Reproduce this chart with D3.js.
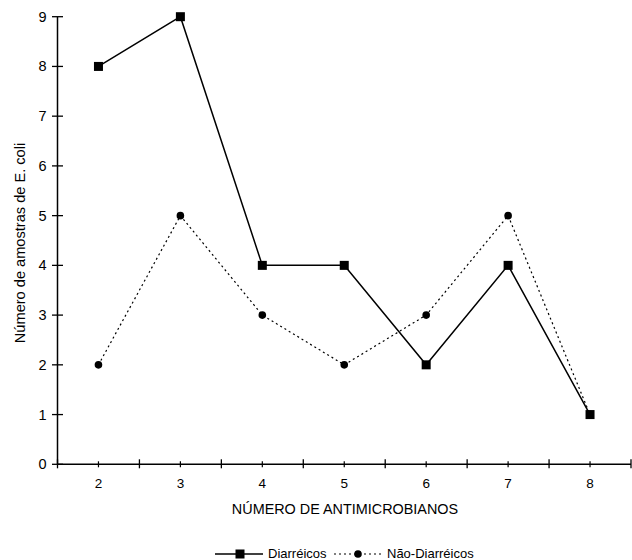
<!DOCTYPE html>
<html><head><meta charset="utf-8">
<script src="https://cdn.jsdelivr.net/npm/d3@7/dist/d3.min.js"></script>
<style>body{margin:0;background:#fff}svg{display:block}text{font-family:"Liberation Sans",Arial,sans-serif;fill:#000}</style>
</head><body>
<svg id="c" width="632" height="560"></svg>
<script>
const categories = ["2","3","4","5","6","7","8"];
const diarreicos = [8,9,4,4,2,4,1];
const naoDiarreicos = [2,5,3,2,3,5,1];
const yTicks = [0,1,2,3,4,5,6,7,8,9];

const svg = d3.select("#c");
const x = d3.scaleBand().domain(categories).range([57.5, 631]);
const y = d3.scaleLinear().domain([0,9]).range([464.3, 16.7]);
const cx = d => x(d) + x.bandwidth()/2;

// y axis
const g = svg.append("g");
g.append("line").attr("x1",57.5).attr("x2",57.5).attr("y1",y(9)).attr("y2",y(0)).attr("stroke","#000").attr("stroke-width",1.5);
g.selectAll(".yt").data(yTicks).enter().append("line")
  .attr("x1",52).attr("x2",63).attr("y1",d=>y(d)).attr("y2",d=>y(d)).attr("stroke","#000").attr("stroke-width",1.3);
g.selectAll(".yl").data(yTicks).enter().append("text")
  .attr("x",46.5).attr("y",d=>y(d)+5).attr("text-anchor","end").attr("font-size",14.5).text(d=>d);

// x axis
g.append("line").attr("x1",57.5).attr("x2",631).attr("y1",y(0)).attr("y2",y(0)).attr("stroke","#000").attr("stroke-width",1.5);
const bounds = categories.map(c=>x(c)).concat([x.range()[1]]);
g.selectAll(".xb").data(bounds).enter().append("line")
  .attr("x1",d=>d).attr("x2",d=>d).attr("y1",y(0)-5).attr("y2",y(0)+4).attr("stroke","#000").attr("stroke-width",1.3);
g.selectAll(".xm").data(categories).enter().append("line")
  .attr("x1",d=>cx(d)).attr("x2",d=>cx(d)).attr("y1",y(0)-3).attr("y2",y(0)+3).attr("stroke","#000").attr("stroke-width",1.2);
g.selectAll(".xl").data(categories).enter().append("text")
  .attr("x",d=>cx(d)).attr("y",487.5).attr("text-anchor","middle").attr("font-size",13.5).text(d=>d);

svg.append("text").attr("x",345).attr("y",514).attr("text-anchor","middle").attr("font-size",14.4).text("NÚMERO DE ANTIMICROBIANOS");
svg.append("text").attr("transform","translate(25,243) rotate(-90)").attr("text-anchor","middle").attr("font-size",14.6).text("Número de amostras de E. coli");

// series
const line = vals => d3.line().x((d,i)=>cx(categories[i])).y(d=>y(d))(vals);
svg.append("path").attr("d",line(naoDiarreicos)).attr("fill","none").attr("stroke","#000").attr("stroke-width",1.2).attr("stroke-dasharray","2,3");
svg.append("path").attr("d",line(diarreicos)).attr("fill","none").attr("stroke","#000").attr("stroke-width",1.5);
svg.selectAll(".sq").data(diarreicos).enter().append("rect")
  .attr("x",(d,i)=>cx(categories[i])-4.5).attr("y",d=>y(d)-4.5).attr("width",9).attr("height",9).attr("fill","#000");
svg.selectAll(".ci").data(naoDiarreicos).enter().append("circle")
  .attr("cx",(d,i)=>cx(categories[i])).attr("cy",d=>y(d)).attr("r",3.8).attr("fill","#000");

// legend
const ly = 554;
svg.append("line").attr("x1",215).attr("x2",263).attr("y1",ly).attr("y2",ly).attr("stroke","#000").attr("stroke-width",1.5);
svg.append("rect").attr("x",235.5).attr("y",ly-4.5).attr("width",9).attr("height",9).attr("fill","#000");
svg.append("text").attr("x",268).attr("y",ly+4.3).attr("font-size",13).text("Diarréicos");
svg.append("line").attr("x1",334).attr("x2",382).attr("y1",ly).attr("y2",ly).attr("stroke","#000").attr("stroke-width",1.2).attr("stroke-dasharray","2,3");
svg.append("circle").attr("cx",358).attr("cy",ly).attr("r",3.8).attr("fill","#000");
svg.append("text").attr("x",387).attr("y",ly+4.3).attr("font-size",13).text("Não-Diarréicos");
</script>
</body></html>
